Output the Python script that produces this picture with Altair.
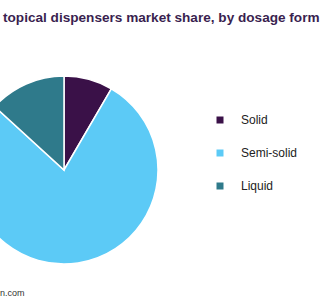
import altair as alt
import pandas as pd

categories = ["Solid", "Semi-solid", "Liquid"]
shares = [8.4, 78.4, 13.2]
colors = ["#3a1148", "#5ccaf6", "#2f7a8b"]
title_text = "topical dispensers market share, by dosage form"
source_text = "n.com"

df = pd.DataFrame({"form": categories, "share": shares, "order": list(range(len(categories)))})

W, H = 324, 300

pie = alt.Chart(df).mark_arc(radius=94, stroke="white", strokeWidth=1.5).encode(
    theta=alt.Theta("share:Q", stack=True),
    order=alt.Order("order:Q"),
    x=alt.value(64),
    y=alt.value(170),
    color=alt.Color(
        "form:N",
        scale=alt.Scale(domain=categories, range=colors),
        sort=categories,
        legend=alt.Legend(
            title=None,
            orient="none",
            legendX=214,
            legendY=114,
            symbolType="square",
            symbolSize=49,
            symbolStrokeWidth=0,
            labelFontSize=12,
            labelFont="Liberation Sans",
            labelColor="#222222",
            labelOffset=15,
            rowPadding=21,
        ),
    ),
)

title = alt.Chart(pd.DataFrame({"t": [title_text]})).mark_text(
    align="left", baseline="alphabetic", fontSize=13.6, fontWeight="bold",
    font="Liberation Sans", color="#3a1f50",
).encode(text="t:N", x=alt.value(3), y=alt.value(22))

line = alt.Chart(pd.DataFrame({"a": [0]})).mark_rule(
    strokeWidth=2,
    color=alt.Gradient(
        gradient="linear",
        stops=[alt.GradientStop(color="#4a5ba8", offset=0), alt.GradientStop(color="#7a4b9c", offset=1)],
        x1=0, x2=1, y1=0, y2=0,
    ),
).encode(x=alt.value(0), x2=alt.value(W), y=alt.value(37))

source = alt.Chart(pd.DataFrame({"s": [source_text]})).mark_text(
    align="left", baseline="alphabetic", fontSize=9, font="Liberation Sans", color="#333333",
).encode(text="s:N", x=alt.value(0), y=alt.value(296))

chart = alt.layer(pie, title, line, source).properties(
    width=W, height=H, padding=0, autosize=alt.AutoSizeParams(type="none")
).configure_view(stroke=None)

chart.save("out.html", embed_options={"renderer": "svg", "actions": False})
